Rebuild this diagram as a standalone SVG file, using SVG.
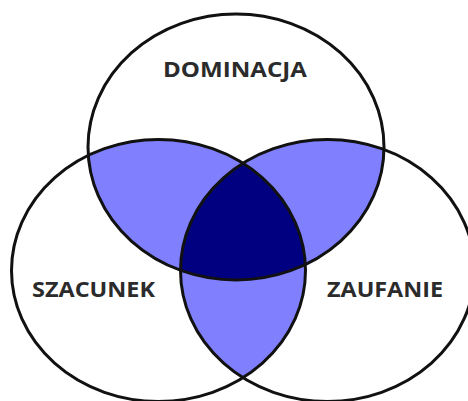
<svg xmlns="http://www.w3.org/2000/svg" width="468" height="401" viewBox="0 0 468 401">
<style>
.ring{fill:none;stroke:#111;stroke-width:3}
.pair{fill:#8080ff}
.triple{fill:#000080}
.lbl{font-family:"Open Sans","DejaVu Sans",sans-serif;font-weight:bold;font-size:22px;fill:#2b2b2b}
</style>
<defs>
<clipPath id="cTop"><ellipse cx="236" cy="147" rx="148" ry="133"/></clipPath>
<clipPath id="cLeft"><ellipse cx="158.5" cy="270.5" rx="147" ry="131"/></clipPath>
<clipPath id="cRight"><ellipse cx="327.5" cy="270.5" rx="147" ry="131"/></clipPath>
</defs>
<rect width="468" height="401" fill="#fff"/>
<g id="overlaps">
<g clip-path="url(#cTop)"><ellipse class="pair" cx="158.5" cy="270.5" rx="147" ry="131"/><ellipse class="pair" cx="327.5" cy="270.5" rx="147" ry="131"/></g>
<g clip-path="url(#cLeft)"><ellipse class="pair" cx="327.5" cy="270.5" rx="147" ry="131"/></g>
<g clip-path="url(#cLeft)"><g clip-path="url(#cRight)"><ellipse class="triple" cx="236" cy="147" rx="148" ry="133"/></g></g>
</g>
<g id="dominacja">
<ellipse class="ring" cx="236" cy="147" rx="148" ry="133"/>
<text class="lbl" x="163" y="77" textLength="144" lengthAdjust="spacingAndGlyphs">DOMINACJA</text>
</g>
<g id="szacunek">
<ellipse class="ring" cx="158.5" cy="270.5" rx="147" ry="131"/>
<text class="lbl" x="32" y="297" textLength="123" lengthAdjust="spacingAndGlyphs">SZACUNEK</text>
</g>
<g id="zaufanie">
<ellipse class="ring" cx="327.5" cy="270.5" rx="147" ry="131"/>
<text class="lbl" x="327" y="297" textLength="116" lengthAdjust="spacingAndGlyphs">ZAUFANIE</text>
</g>
</svg>
